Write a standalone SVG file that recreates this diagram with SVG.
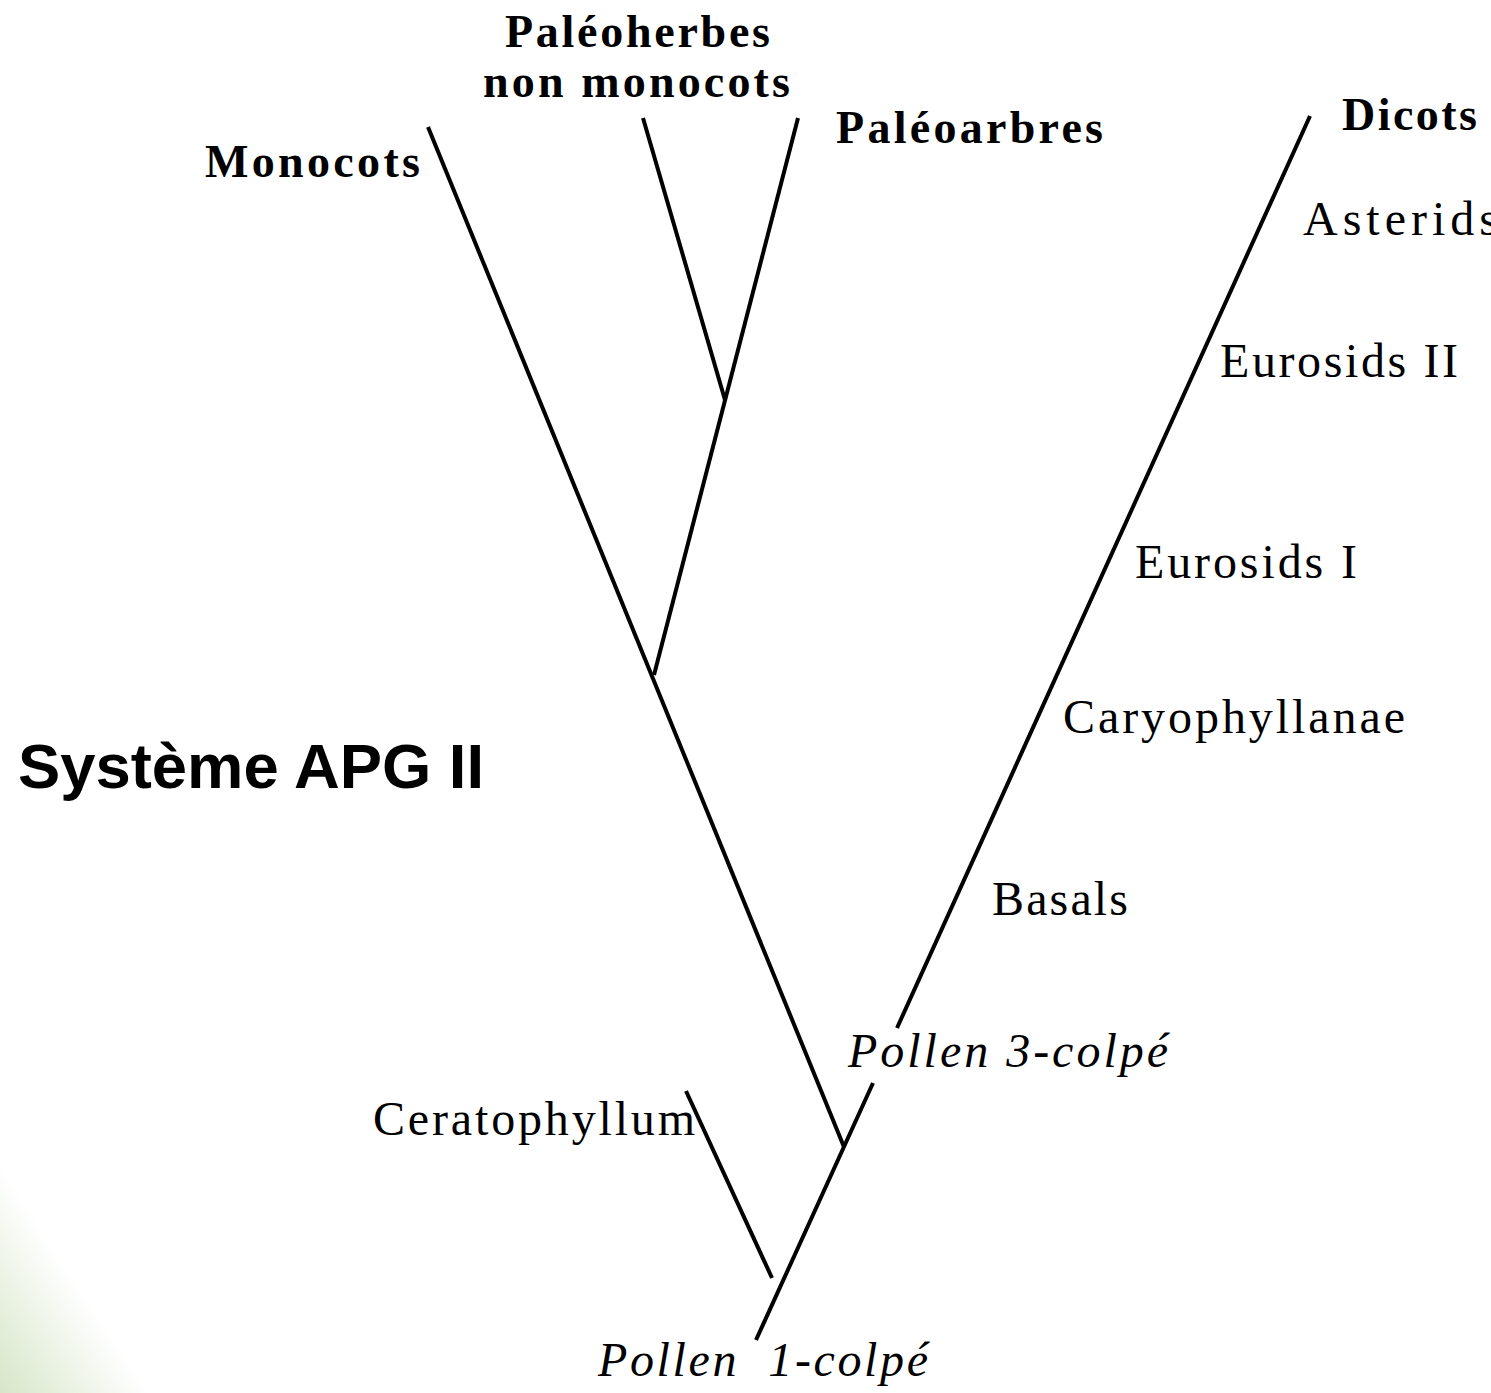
<svg xmlns="http://www.w3.org/2000/svg" width="1491" height="1393" viewBox="0 0 1491 1393">
<defs>
<linearGradient id="bg" gradientUnits="userSpaceOnUse" x1="0" y1="1393" x2="105" y2="1324">
<stop offset="0" stop-color="#d6e6c8"/>
<stop offset="1" stop-color="#ffffff"/>
</linearGradient>
<style>
.b{font-family:"Liberation Serif","Times New Roman",serif;font-weight:bold;font-size:46px;fill:#000}
.r{font-family:"Liberation Serif","Times New Roman",serif;font-size:48px;fill:#000}
.i{font-family:"Liberation Serif","Times New Roman",serif;font-style:italic;font-size:48px;fill:#000}
.t{font-family:"Liberation Sans",Arial,sans-serif;font-weight:bold;font-size:63px;fill:#000}
.c line{stroke:#000;stroke-width:4;stroke-linecap:butt}
</style>
</defs>
<rect width="1491" height="1393" fill="#ffffff"/>
<rect width="1491" height="1393" fill="url(#bg)"/>
<g class="c" id="connectors">
<line x1="428" y1="127" x2="844" y2="1147"/>
<line x1="643" y1="118" x2="725" y2="400"/>
<line x1="798" y1="118" x2="654" y2="675"/>
<line x1="1310" y1="116" x2="897" y2="1028"/>
<line x1="686" y1="1091" x2="772" y2="1278"/>
<line x1="873" y1="1083" x2="756" y2="1340"/>
</g>
<g id="title"><text class="t" x="18" y="788" textLength="466" lengthAdjust="spacingAndGlyphs">Système APG II</text></g>
<g id="paleoherbes">
<text class="b" x="505" y="47" textLength="265" lengthAdjust="spacing">Paléoherbes</text>
<text class="b" x="483" y="97" textLength="307" lengthAdjust="spacing">non monocots</text>
</g>
<g id="monocots"><text class="b" x="205" y="177" textLength="215" lengthAdjust="spacing">Monocots</text></g>
<g id="paleoarbres"><text class="b" x="836" y="143" textLength="267" lengthAdjust="spacing">Paléoarbres</text></g>
<g id="dicots"><text class="b" x="1342" y="130" textLength="135" lengthAdjust="spacing">Dicots</text></g>
<g id="asterids"><text class="r" x="1303" y="235" letter-spacing="5">Asterids</text></g>
<g id="eurosids2"><text class="r" x="1220" y="377" textLength="238" lengthAdjust="spacing">Eurosids II</text></g>
<g id="eurosids1"><text class="r" x="1135" y="578" textLength="222" lengthAdjust="spacing">Eurosids I</text></g>
<g id="caryophyllanae"><text class="r" x="1063" y="733" textLength="342" lengthAdjust="spacing">Caryophyllanae</text></g>
<g id="basals"><text class="r" x="992" y="915" textLength="136" lengthAdjust="spacing">Basals</text></g>
<g id="pollen3"><text class="i" x="848" y="1067" textLength="320" lengthAdjust="spacing">Pollen 3-colpé</text></g>
<g id="ceratophyllum"><text class="r" x="373" y="1135" textLength="322" lengthAdjust="spacing">Ceratophyllum</text></g>
<g id="pollen1"><text class="i" x="598" y="1376" textLength="330" lengthAdjust="spacing" xml:space="preserve">Pollen  1-colpé</text></g>
</svg>
